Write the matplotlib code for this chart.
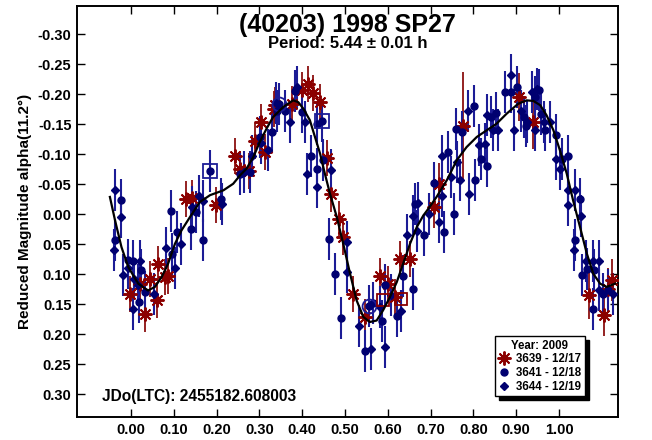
import matplotlib
matplotlib.use("Agg")
import matplotlib.pyplot as plt

plt.rcParams['font.family'] = ['Liberation Sans', 'DejaVu Sans']
plt.rcParams['font.weight'] = 'bold'

# session 3639 - 12/17 (red asterisks)
ph_3639 = [-0.002, 0.022, 0.033, 0.045, 0.061, 0.064, 0.079, 0.087, 0.1285, 0.142,
           0.199, 0.243, 0.256, 0.276, 0.290, 0.305, 0.313, 0.334, 0.337, 0.3755,
           0.399, 0.414, 0.426, 0.4416, 0.457, 0.4666, 0.485, 0.496, 0.519, 0.546,
           0.582, 0.601, 0.6175, 0.6285, 0.652, 0.708, 0.720, 0.776, 0.907, 0.9386,
           1.071, 1.105, 1.115, 1.123]
mag_3639 = [0.133, 0.1155, 0.166, 0.107, 0.143, 0.083, 0.105, 0.102, -0.026, -0.027,
            -0.016, -0.098, -0.076, -0.073, -0.123, -0.154, -0.104, -0.176, -0.183, -0.1845,
            -0.207, -0.218, -0.202, -0.187, -0.0945, -0.0345, 0.007, 0.038, 0.132, 0.171,
            0.102, 0.1155, 0.138, 0.074, 0.074, -0.012, -0.051, -0.148, -0.1955, -0.154,
            0.135, 0.168, 0.124, 0.110]
err_3639 = [0.03, 0.03, 0.03, 0.03, 0.03, 0.03, 0.03, 0.03, 0.03, 0.03,
            0.03, 0.03, 0.03, 0.03, 0.03, 0.03, 0.03, 0.03, 0.03, 0.03,
            0.03, 0.03, 0.03, 0.03, 0.03, 0.03, 0.03, 0.03, 0.03, 0.03,
            0.03, 0.03, 0.03, 0.03, 0.03, 0.035, 0.035, 0.09, 0.04, 0.045,
            0.04, 0.035, 0.035, 0.035]

# session 3641 - 12/18 (navy circles)
ph_3641 = [-0.022, -0.036, -0.006, 0.006, 0.023, 0.019, 0.033, 0.093, 0.095, 0.107,
           0.140, 0.152, 0.1675, 0.1846, 0.211, 0.2547, 0.278, 0.301, 0.329, 0.342,
           0.3465, 0.360, 0.3825, 0.3995, 0.434, 0.420, 0.434, 0.446, 0.449, 0.4626,
           0.476, 0.491, 0.546, 0.557, 0.566, 0.586, 0.594, 0.622, 0.636, 0.658,
           0.664, 0.6846, 0.708, 0.731, 0.7407, 0.7547, 0.759, 0.773, 0.801, 0.803,
           0.817, 0.831, 0.842, 0.853, 0.8745, 0.8885, 0.9026, 0.918, 0.923, 0.943,
           0.954, 0.9586, 0.9666, 0.993, 1.006, 1.022, 1.049, 1.037, 1.053, 1.066,
           1.082, 1.080, 1.1035, 1.115]
mag_3641 = [-0.0245, 0.042, 0.0755, 0.078, 0.092, 0.146, 0.130, -0.0055, 0.0655, 0.029,
            0.0245, -0.004, 0.043, -0.073, -0.026, -0.068, -0.0705, -0.129, -0.137, -0.173,
            -0.1845, -0.172, -0.2055, -0.170, -0.150, -0.098, -0.076, -0.1555, -0.090, 0.0405,
            0.099, 0.173, 0.228, 0.153, 0.148, 0.177, 0.118, 0.170, 0.103, 0.124,
            -0.017, 0.034, -0.052, 0.0295, -0.104, -0.001, -0.142, -0.137, -0.180, -0.058,
            -0.092, -0.081, -0.162, -0.169, -0.2045, -0.2045, -0.212, -0.162, -0.147, -0.1955,
            -0.208, -0.168, -0.140, -0.132, -0.093, -0.097, -0.026, 0.043, 0.1005, 0.0905,
            0.093, 0.157, 0.132, 0.1267]

# session 3644 - 12/19 (navy diamonds)
ph_3644 = [-0.037, -0.023, -0.039, -0.019, -0.006, 0.008, 0.022, 0.017, 0.006, 0.054,
           0.081, 0.103, 0.117, 0.142, 0.158, 0.169, 0.212, 0.264, 0.284, 0.304,
           0.321, 0.340, 0.3715, 0.387, 0.406, 0.412, 0.435, 0.4666, 0.505, 0.504,
           0.533, 0.561, 0.582, 0.594, 0.607, 0.630, 0.644, 0.658, 0.671, 0.669,
           0.6956, 0.719, 0.7266, 0.7266, 0.747, 0.761, 0.7687, 0.788, 0.789, 0.814,
           0.828, 0.8325, 0.8465, 0.8575, 0.887, 0.8955, 0.9105, 0.9245, 0.937, 0.943,
           0.948, 0.965, 0.979, 0.993, 1.002, 1.022, 1.022, 1.037, 1.051, 1.035,
           1.063, 1.079, 1.094, 1.093, 1.127]
mag_3644 = [-0.041, 0.0045, 0.059, 0.101, 0.089, 0.107, 0.078, 0.117, 0.158, 0.132,
            0.0555, 0.090, 0.049, -0.012, -0.030, -0.022, -0.018, -0.0705, -0.097, -0.119,
            -0.107, -0.186, -0.154, -0.213, -0.154, -0.068, -0.0455, -0.0745, 0.046, 0.096,
            0.1855, 0.224, 0.1545, 0.221, 0.134, 0.161, 0.034, 0.003, -0.019, 0.027,
            0.0, 0.013, -0.0305, -0.098, -0.062, -0.0867, -0.0567, -0.173, -0.0345, -0.115,
            -0.1167, -0.165, -0.140, -0.141, -0.232, -0.140, -0.173, -0.154, -0.204, -0.140,
            -0.2095, -0.154, -0.154, -0.093, -0.076, -0.040, -0.015, -0.041, 0.003, 0.060,
            0.077, 0.078, 0.078, 0.1267, 0.132]
navy_err = 0.035

# first-point markers of each session
sq_ph = [0.1846, 0.446]
sq_mag = [-0.073, -0.1555]
circ_ph = [0.3465, 0.557]
circ_mag = [-0.1845, 0.153]
red_sq_ph = [0.5895, 0.630]
red_sq_mag = [0.143, 0.1405]

# fourier fit curve
fit_ph = [-0.049, -0.037, -0.022, -0.006, 0.017, 0.040, 0.056, 0.072, 0.087, 0.103,
          0.118, 0.138, 0.161, 0.185, 0.216, 0.239, 0.255, 0.270, 0.286, 0.301,
          0.317, 0.332, 0.356, 0.379, 0.391, 0.403, 0.418, 0.430, 0.442, 0.453,
          0.465, 0.481, 0.496, 0.512, 0.527, 0.543, 0.558, 0.574, 0.589, 0.605,
          0.621, 0.636, 0.652, 0.668, 0.683, 0.695, 0.714, 0.738, 0.761, 0.784,
          0.808, 0.831, 0.854, 0.878, 0.905, 0.9245, 0.940, 0.956, 0.971, 0.987,
          1.002, 1.018, 1.033, 1.049, 1.065, 1.080, 1.096, 1.111, 1.131]
fit_mag = [-0.029, 0.010, 0.0545, 0.088, 0.1155, 0.127, 0.121, 0.1045, 0.082, 0.049,
           0.027, 0.0045, -0.0205, -0.032, -0.040, -0.051, -0.065, -0.076, -0.0955, -0.1205,
           -0.143, -0.162, -0.179, -0.190, -0.187, -0.176, -0.157, -0.129, -0.101, -0.068,
           -0.0345, 0.0045, 0.049, 0.099, 0.143, 0.171, 0.1795, 0.177, 0.160, 0.138,
           0.113, 0.082, 0.049, 0.021, 0.002, -0.0095, -0.029, -0.057, -0.090, -0.112,
           -0.129, -0.140, -0.151, -0.168, -0.1845, -0.190, -0.189, -0.182, -0.165, -0.140,
           -0.107, -0.068, -0.023, 0.021, 0.0655, 0.099, 0.1155, 0.121, 0.1155]

xticks = [0.0, 0.1, 0.2, 0.3, 0.4, 0.5, 0.6, 0.7, 0.8, 0.9, 1.0]
yticks = [-0.30, -0.25, -0.20, -0.15, -0.10, -0.05, 0.0, 0.05, 0.10, 0.15, 0.20, 0.25, 0.30]

red = '#8b0000'
navy = '#000070'
navy_bar = '#1c1c96'

fig = plt.figure(figsize=(6.52, 4.4), dpi=100)
ax = fig.add_axes([0.118, 0.052, 0.830, 0.934])

ax.errorbar(ph_3639, mag_3639, yerr=err_3639, fmt='none', ecolor='#8b1010', elinewidth=1.3, zorder=2)
ax.errorbar(ph_3641, mag_3641, yerr=navy_err, fmt='none', ecolor=navy_bar, elinewidth=1.5, zorder=2)
ax.errorbar(ph_3644, mag_3644, yerr=navy_err, fmt='none', ecolor=navy_bar, elinewidth=1.5, zorder=2)

ax.plot(ph_3639, mag_3639, linestyle='none', marker=(8, 2, 0), markersize=10,
        markeredgewidth=1.4, color=red, label='3639 - 12/17', zorder=3)
ax.plot(ph_3641, mag_3641, linestyle='none', marker='o', markersize=5,
        color=navy, label='3641 - 12/18', zorder=4)
ax.plot(ph_3644, mag_3644, linestyle='none', marker='D', markersize=4.2,
        color=navy, label='3644 - 12/19', zorder=4)

ax.plot(sq_ph, sq_mag, linestyle='none', marker='s', markersize=10, markerfacecolor='none',
        markeredgecolor=navy_bar, markeredgewidth=1.3, zorder=5)
ax.plot(circ_ph, circ_mag, linestyle='none', marker='o', markersize=10, markerfacecolor='none',
        markeredgecolor=navy_bar, markeredgewidth=1.3, zorder=5)
ax.plot(red_sq_ph, red_sq_mag, linestyle='none', marker='s', markersize=9, markerfacecolor='none',
        markeredgecolor=red, markeredgewidth=1.3, zorder=5)

ax.plot(fit_ph, fit_mag, color='black', linewidth=1.6, zorder=6)

ax.set_xlim(-0.126, 1.138)
ax.set_ylim(0.338, -0.347)
ax.set_xticks(xticks)
ax.set_xticklabels(['%.2f' % v for v in xticks])
ax.set_yticks(yticks)
ax.set_yticklabels(['%.2f' % v for v in yticks])
ax.tick_params(direction='in', length=6, width=1, labelsize=10.5, pad=4,
               top=True, right=True)
for lab in ax.get_xticklabels() + ax.get_yticklabels():
    lab.set_fontweight('bold')
for sp in ax.spines.values():
    sp.set_linewidth(1.4)

ax.set_ylabel('Reduced Magnitude alpha(11.2°)', fontsize=11, fontweight='bold', labelpad=4)

ax.text(0.5, 0.955, '(40203) 1998 SP27', transform=ax.transAxes, ha='center', va='center',
        fontsize=18, fontweight='bold')
ax.text(0.5, 0.910, 'Period: 5.44 ± 0.01 h', transform=ax.transAxes, ha='center', va='center',
        fontsize=12, fontweight='bold')
ax.text(0.046, 0.051, 'JDo(LTC): 2455182.608003', transform=ax.transAxes, ha='left', va='center',
        fontsize=11.2, fontweight='bold')

leg = ax.legend(loc='upper left', bbox_to_anchor=(0.773, 0.197), title='Year: 2009',
                fancybox=False, shadow={'color': 'black', 'alpha': 1.0, 'ox': 3, 'oy': -3},
                framealpha=1, edgecolor='black', borderpad=0.3, labelspacing=0.15,
                handlelength=1.0, handletextpad=0.5, borderaxespad=0,
                prop={'size': 8.3, 'weight': 'bold'}, title_fontproperties={'size': 8.3, 'weight': 'bold'})
leg.get_frame().set_linewidth(1.0)
leg.set_zorder(10)

fig.savefig('out.png', dpi=100)
